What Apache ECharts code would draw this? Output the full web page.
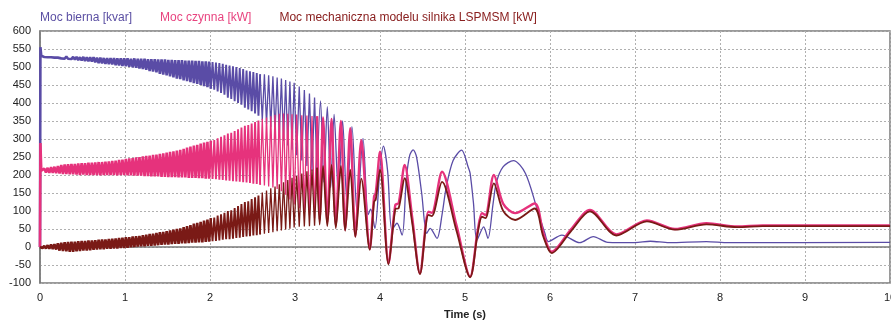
<!DOCTYPE html>
<html>
<head>
<meta charset="utf-8">
<script src="https://cdn.jsdelivr.net/npm/echarts@6/dist/echarts.min.js"></script>
<style>
  html, body { margin: 0; padding: 0; background: #fff; }
  #chart { width: 891px; height: 326px; }
</style>
</head>
<body>
<div id="chart"></div>
<script>
// nazwy serii (legenda)
const names = ['Moc bierna [kvar]', 'Moc czynna [kW]', 'Moc mechaniczna modelu silnika LSPMSM [kW]'];

// czas [s] - część gęsta (szybkie oscylacje przy rozruchu)
const tDense = [0, 0.005, 0.015,
  0.03,0.05,0.07,0.09,0.11,0.13,0.15,0.17,0.19,0.21,
  0.23,0.25,0.27,0.29,0.31,0.33,0.35,0.37,0.39,0.41,
  0.43,0.45,0.47,0.49,0.51,0.53,0.55,0.57,0.59,0.61,
  0.63,0.65,0.67,0.69,0.71,0.73,0.75,0.77,0.79,0.81,
  0.83,0.85,0.87,0.89,0.91,0.93,0.95,0.97,0.99,1.01,
  1.03,1.05,1.07,1.09,1.11,1.13,1.15,1.17,1.19,1.21,
  1.23,1.25,1.27,1.29,1.31,1.33,1.35,1.37,1.39,1.41,
  1.43,1.45,1.47,1.49,1.51,1.53,1.55,1.57,1.59,1.61,
  1.63,1.65,1.67,1.69,1.71,1.73,1.75,1.77,1.79,1.81,
  1.83,1.85,1.87,1.89,1.91,1.93,1.95,1.97,1.99,2.01,
  2.03,2.05,2.07,2.09,2.11,2.13,2.15,2.17,2.19,2.21,
  2.23,2.25,2.27,2.29,2.31,2.33,2.35,2.37,2.39,2.41,
  2.43,2.45,2.47,2.49,2.51,2.53,2.55,2.57,2.59,
  2.615,2.64,2.665,2.69,2.715,2.74,2.765,2.79,2.815,2.84,2.865,2.89,2.915,2.94,2.965,2.99,
  3.02,3.05,3.08,3.11,3.14,3.17,3.20,3.23,3.26];

// moc bierna [kvar] - część gęsta
const qDense = [0, 555, 531,
  530,528,530,527,529,527,530,526,529,526,
  529,524,528,523,529,523,528,522,528,521,
  528,519,527,518,528,517,527,516,527,515,
  527,513,526,511,526,510,525,509,525,508,
  525,507,525,505,524,504,524,503,524,502,
  524,501,523,499,524,498,523,496,523,494,
  523,492,522,489,522,487,522,485,521,481,
  521,479,521,477,520,474,520,471,519,468,
  519,466,519,463,518,461,518,458,518,455,
  517,453,517,450,516,447,516,444,515,440,
  514,437,512,432,511,428,509,423,506,415,
  504,411,502,405,500,400,497,395,494,387,
  490,382,488,377,486,371,483,365,480,
  352,480,342,477,333,474,320,471,305,468,295,464,282,460,270,456,
  255,446,240,436,225,426,212,415,200];

// moc czynna [kW] - część gęsta
const pDense = [0, 289, 212,
  208,218,207,220,206,222,206,223,205,225,
  204,228,203,229,203,230,202,231,202,231,
  201,232,200,233,201,233,200,234,200,234,
  200,235,200,236,199,236,200,237,200,238,
  200,239,200,240,199,242,200,243,200,245,
  199,246,199,247,198,249,198,250,198,252,
  197,253,197,254,196,256,196,257,196,259,
  195,260,195,262,194,264,194,266,194,268,
  193,270,193,273,193,276,192,279,192,282,
  192,284,191,287,191,290,190,292,190,295,
  189,297,188,302,187,306,186,310,185,315,
  184,317,183,322,182,327,181,332,180,337,
  179,339,178,343,176,347,175,351,173,
  356,171,360,168,363,165,367,161,370,155,371,145,370,132,369,118,
  368,108,366,98,365,88,364,80,363];

// moc mechaniczna [kW] - część gęsta
const mDense = [0, 3, -1,
  -3,3,-4,5,-5,7,-6,8,-7,10,
  -10,12,-11,13,-12,14,-13,15,-13,15,
  -12,16,-11,17,-10,17,-10,18,-9,18,
  -8,19,-7,20,-6,21,-6,21,-5,22,
  -5,23,-4,24,-4,25,-3,26,-3,27,
  -2,27,-1,29,0,30,1,31,2,33,
  2,34,3,36,3,37,4,39,5,41,
  6,42,7,44,7,46,8,48,9,50,
  9,52,10,55,10,58,11,61,12,65,
  12,67,13,70,13,73,14,76,15,80,
  16,82,17,87,18,91,20,95,22,100,
  22,102,23,108,25,114,26,119,28,125,
  29,127,30,133,32,138,33,143,35,
  151,37,157,39,163,41,168,44,174,46,180,49,186,51,192,54,
  197,56,204,57,210,58,215,59,220];

// część wolnozmienna - moc bierna
const tQ = [3.26,3.30,3.34,3.38,3.42,3.46,3.51,3.56,3.61,3.67,3.73,3.80,3.86,3.89,3.94,4.00,4.04,4.09,4.14,4.20,
  4.26,4.31,4.35,4.39,4.43,4.49,4.55,4.59,4.67,4.73,4.78,4.86,4.96,5.04,5.06,5.10,5.14,5.22,5.27,5.33,
  5.37,5.45,5.57,5.71,5.84,5.94,5.98,6.14,6.35,6.51,6.68,7.0,7.18,7.4,7.84,8.1,10];
const qSlow = [200,406,180,390,165,368,148,350,128,334,98,302,90,105,52,220,280,210,47,66,
  33,190,255,270,250,150,38,52,24,90,167,240,269,220,205,121,19,56,24,120,
  180,223,240,205,112,38,15,33,12,29,13,12,16,12,15,12,13];

// część wolnozmienna - moc czynna i mechaniczna
const tPM = [3.26,3.29,3.33,3.38,3.43,3.48,3.54,3.59,3.65,3.71,3.78,3.88,3.93,3.95,4.00,4.10,4.18,4.22,4.29,4.38,
  4.47,4.57,4.61,4.73,4.90,5.06,5.15,5.20,5.24,5.34,5.45,5.59,5.82,5.92,6.02,6.25,6.47,6.78,7.14,7.47,
  7.84,8.2,8.5,10];
const pSlow = [363,75,360,68,356,60,350,48,330,30,297,-5,140,150,265,-45,117,122,228,80,
  -73,98,95,209,60,-82,47,94,89,200,120,94,121,40,-13,50,103,35,74,50,
  66,57,60,60];
const mSlow = [220,62,225,58,228,52,225,45,215,28,190,-8,125,132,215,-48,105,108,191,65,
  -75,89,86,181,45,-84,40,84,80,177,100,75,107,30,-17,45,99,32,71,48,
  63,55,58,58];

const colors = ['#5a4ca6', '#e6327c', '#7a1a16'];
const legendColors = ['#5b4fa3', '#e8437f', '#8a2020'];

const zip = (t, v) => t.map((x, i) => [x, v[i]]);

const chart = echarts.init(document.getElementById('chart'));

const dense = [qDense, pDense, mDense];
const slowT = [tQ, tPM, tPM];
const slow = [qSlow, pSlow, mSlow];
const widths = [1.3, 2.4, 1.8];
// odcinki części gęstej: [od, do, grubość linii]
const parts = [[0, 102, 2.6], [102, 131, 1.9], [131, 156, 1.3]];

let series = [];
for (let k = 0; k < 3; k++) {
  const pts = zip(tDense, dense[k]);
  parts.forEach(([a, b, w]) => {
    series.push({
      name: names[k],
      type: 'line',
      showSymbol: false,
      color: colors[k],
      lineStyle: { width: w, color: colors[k] },
      data: pts.slice(a, b + 1),
      z: 2 + k,
    });
  });
  series.push({
    name: names[k],
    type: 'line',
    showSymbol: false,
    smooth: 0.3,
    color: colors[k],
    lineStyle: { width: widths[k], color: colors[k] },
    data: zip(slowT[k], slow[k]),
    z: 2 + k,
  });
}

const font = 'Liberation Sans, Arial, sans-serif';

const option = {
  animation: false,
  textStyle: { fontFamily: font },
  legend: {
    top: 7,
    left: 29,
    itemWidth: 0,
    itemHeight: 0,
    itemGap: 22,
    selectedMode: false,
    data: names.map((n, i) => ({ name: n, textStyle: { color: legendColors[i], fontSize: 12, fontFamily: font } })),
  },
  grid: {
    left: 40,
    right: 1,
    top: 31,
    bottom: 43,
    outerBoundsMode: 'none',
    containLabel: false,
    show: true,
    borderColor: '#7a7a7a',
    borderWidth: 1.5,
  },
  xAxis: {
    type: 'value',
    min: 0,
    max: 10,
    interval: 1,
    name: 'Time (s)',
    nameLocation: 'middle',
    nameGap: 26,
    nameTextStyle: { color: '#222', fontSize: 11, fontWeight: 'bold', fontFamily: font },
    axisLine: { lineStyle: { color: '#7a7a7a', width: 1.5 } },
    axisTick: { show: false },
    axisLabel: { color: '#222', fontSize: 11, margin: 9, fontFamily: font },
    splitLine: { lineStyle: { color: '#b0b0b0', type: [2, 2] } },
  },
  yAxis: {
    type: 'value',
    min: -100,
    max: 600,
    interval: 50,
    axisLine: { show: true, lineStyle: { color: '#7a7a7a', width: 1.5 } },
    axisTick: { show: false },
    axisLabel: { color: '#222', fontSize: 11, margin: 9, fontFamily: font },
    splitLine: { lineStyle: { color: '#b0b0b0', type: [2, 2] } },
  },
  series: series,
};

chart.setOption(option);
</script>
</body>
</html>
